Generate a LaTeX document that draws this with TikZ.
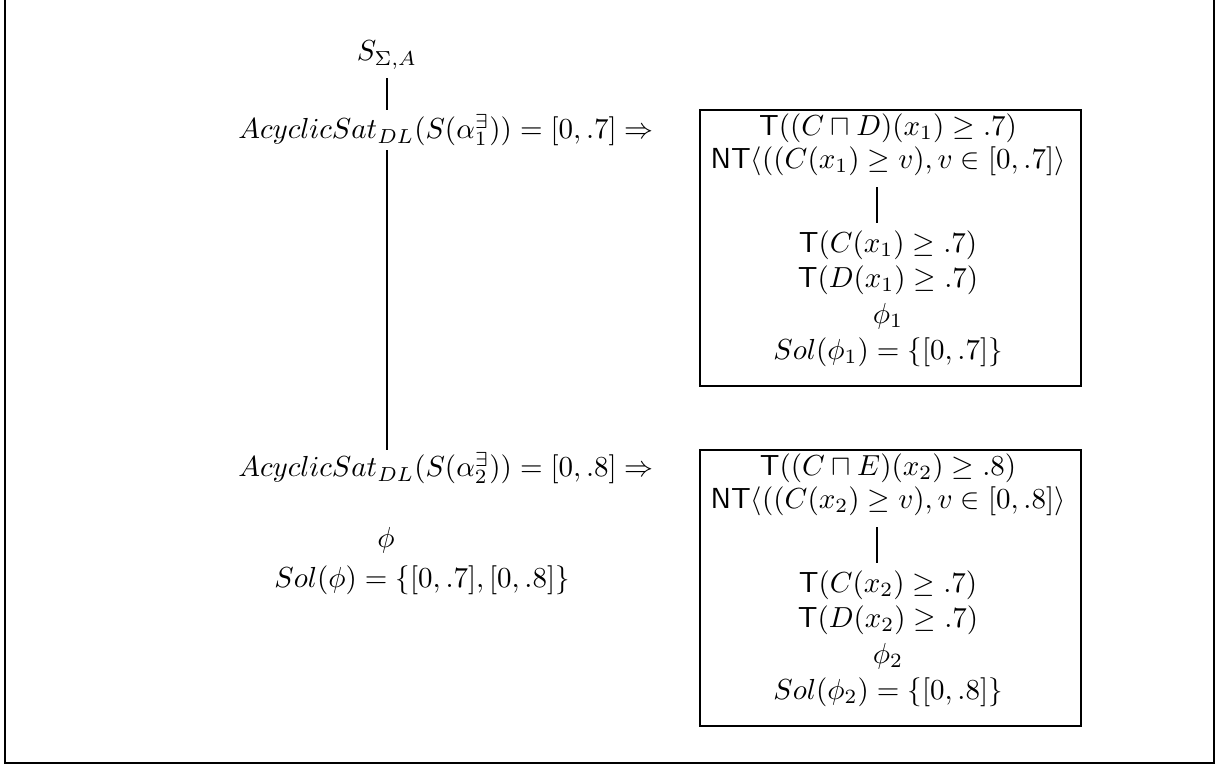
\documentclass[tikz,border=0pt]{standalone}
\usepackage{amsmath,amssymb}
\begin{document}
\begin{tikzpicture}[x=0.345pt,y=-0.345pt,
  txt/.style={inner sep=0pt, anchor=center},
  edge/.style={line width=0.7pt},
  frame/.style={draw, line width=0.7pt},
  boxframe/.style={frame, minimum width=381*0.345pt, minimum height=276*0.345pt, inner sep=0pt}]
\useasboundingbox (0,0) rectangle (1221,767);
% outer frame (its top lies above the picture)
\draw[frame] (5,-10) rectangle (1214,763);
% left column
\node[txt] (s) at (387,55) {$S_{\Sigma,A}$};
\node[txt] (a1) at (446,130) {$AcyclicSat_{DL}(S(\alpha^{\exists}_{1})) = [0,.7]\Rightarrow$};
\node[txt] (a2) at (446,468) {$AcyclicSat_{DL}(S(\alpha^{\exists}_{2})) = [0,.8]\Rightarrow$};
\node[txt] (phi) at (386,540) {$\phi$};
\node[txt] (sol) at (422,580) {$Sol(\phi) = \{[0,.7],[0,.8]\}$};
\coordinate (c1) at (387,78);
\coordinate (c2) at (387,110);
\coordinate (c3) at (387,150);
\coordinate (c4) at (387,450);
\draw[edge] (c1) -- (c2);
\draw[edge] (c3) -- (c4);
% box 1
\node[boxframe] (box1) at (890.5,248) {};
\node[txt] (b1a) at (888,128) {$\mathsf{T}((C\sqcap D)(x_1)\geq .7)$};
\node[txt] (b1b) at (888,161) {$\mathsf{NT}\langle((C(x_1)\geq v), v\in[0,.7]\rangle$};
\node[txt] (b1c) at (888,245) {$\mathsf{T}(C(x_1)\geq .7)$};
\node[txt] (b1d) at (888,280) {$\mathsf{T}(D(x_1)\geq .7)$};
\node[txt] (b1e) at (888,316) {$\phi_1$};
\node[txt] (b1f) at (888,352) {$Sol(\phi_1) = \{[0,.7]\}$};
\coordinate (v1) at (877,187);
\coordinate (v2) at (877,223);
\draw[edge] (v1) -- (v2);
% box 2
\node[boxframe] (box2) at (890.5,588) {};
\node[txt] (b2a) at (888,468) {$\mathsf{T}((C\sqcap E)(x_2)\geq .8)$};
\node[txt] (b2b) at (888,501) {$\mathsf{NT}\langle((C(x_2)\geq v), v\in[0,.8]\rangle$};
\node[txt] (b2c) at (888,585) {$\mathsf{T}(C(x_2)\geq .7)$};
\node[txt] (b2d) at (888,620) {$\mathsf{T}(D(x_2)\geq .7)$};
\node[txt] (b2e) at (888,656) {$\phi_2$};
\node[txt] (b2f) at (888,692) {$Sol(\phi_2) = \{[0,.8]\}$};
\coordinate (w1) at (877,527);
\coordinate (w2) at (877,563);
\draw[edge] (w1) -- (w2);
\end{tikzpicture}
\end{document}
